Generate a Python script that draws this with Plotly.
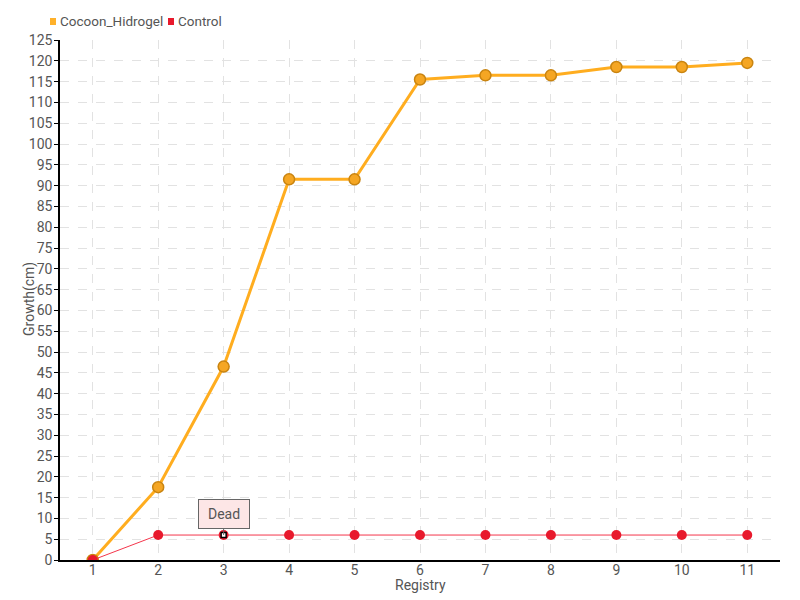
import plotly.graph_objects as go

registry = [1, 2, 3, 4, 5, 6, 7, 8, 9, 10, 11]
cocoon_hidrogel = [0, 17.5, 46.5, 91.5, 91.5, 115.5, 116.5, 116.5, 118.5, 118.5, 119.5]
control = [0, 6, 6, 6, 6, 6, 6, 6, 6, 6, 6]
y_ticks = list(range(0, 126, 5))
series_names = ["Cocoon_Hidrogel", "Control"]
series_colors = ["#ffb12a", "#e8192c"]

FONT = "Roboto, DejaVu Sans, sans-serif"
TXT = "#555555"

fig = go.Figure()
fig.add_trace(go.Scatter(
    x=registry, y=cocoon_hidrogel, name=series_names[0], mode="lines+markers",
    line=dict(color="#ffad1f", width=3),
    marker=dict(size=11, color="#f5a623", line=dict(color="#c98410", width=1.5)),
    showlegend=False,
))
fig.add_trace(go.Scatter(
    x=registry, y=control, name=series_names[1], mode="lines+markers",
    line=dict(color="#f4364c", width=1),
    marker=dict(size=10, color="#e8192c", line=dict(width=0)),
    showlegend=False,
))
# Dead marker overlay
fig.add_trace(go.Scatter(
    x=[registry[2]], y=[control[2]], mode="markers", showlegend=False,
    marker=dict(size=5, symbol="square", color="white", line=dict(color="black", width=1.5)),
    hoverinfo="skip",
))

fig.add_annotation(
    x=registry[2], y=control[2], text="Dead", showarrow=True, arrowhead=0,
    arrowcolor="#666", ax=0, ay=-21, bgcolor="#fde6e6", bordercolor="#666",
    borderwidth=1, borderpad=6, width=38, font=dict(family=FONT, size=14, color=TXT),
)

fig.update_layout(
    width=800, height=600,
    margin=dict(l=52, r=28, t=32, b=48, autoexpand=False),
    plot_bgcolor="white", paper_bgcolor="white",
    font=dict(family=FONT, size=14, color=TXT),
    showlegend=False,
)
# legend squares + labels (plot area spans screen px 60..780 x, 40..560 y)
legend_x = [50, 168]
for name, col, lx in zip(series_names, series_colors, legend_x):
    x0 = (lx - 60) / 720
    x1 = (lx + 6 - 60) / 720
    y0 = (560 - 25) / 520
    y1 = (560 - 18) / 520
    fig.add_shape(type="rect", xref="paper", yref="paper", x0=x0, x1=x1, y0=y0, y1=y1,
                  line=dict(width=0), fillcolor=col)
    fig.add_annotation(xref="paper", yref="paper", x=(lx + 8 - 60) / 720, y=(560 - 21) / 520,
                       text=name, showarrow=False, xanchor="left", yanchor="middle",
                       font=dict(family=FONT, size=13.5, color=TXT))

# axis titles
fig.add_annotation(xref="paper", yref="paper", x=(29 - 60) / 720, y=(560 - 299) / 520,
                   text="Growth(cm)", textangle=-90, showarrow=False,
                   xanchor="center", yanchor="middle", font=dict(family=FONT, size=14, color=TXT))
fig.add_annotation(xref="paper", yref="paper", x=(420 - 60) / 720, y=(560 - 585) / 520,
                   text="Registry", showarrow=False,
                   xanchor="center", yanchor="middle", font=dict(family=FONT, size=14, color=TXT))

fig.update_xaxes(
    range=[0.5, 11.5], tickmode="array", tickvals=registry, ticktext=[str(r) for r in registry],
    showline=True, linecolor="black", linewidth=1.5, ticks="",
    showgrid=True, gridcolor="#e2e2e2", griddash="dash", zeroline=False, automargin=False,
    ticklabelstandoff=-4,
    tickfont=dict(size=14, color=TXT),
)
fig.update_yaxes(
    range=[0, 125], tickmode="array", tickvals=y_ticks,
    showline=True, linecolor="black", linewidth=1.5, ticks="outside", ticklen=4, tickcolor="black",
    showgrid=True, gridcolor="#e2e2e2", griddash="dash", zeroline=False, automargin=False,
    ticklabelstandoff=-1,
    tickfont=dict(size=14, color=TXT),
)
fig.write_html("out.html")
